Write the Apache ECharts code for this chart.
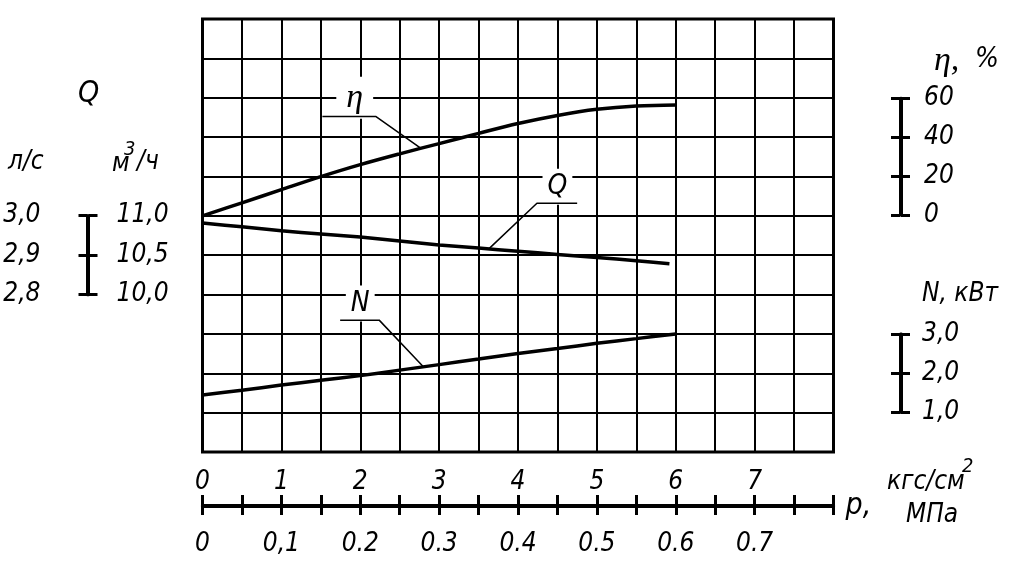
<!DOCTYPE html>
<html><head><meta charset="utf-8">
<script src="https://cdn.jsdelivr.net/npm/echarts@6/dist/echarts.min.js"></script>
<style>html,body{margin:0;padding:0;background:#fff}#c{width:1024px;height:574px}</style>
</head><body><div id="c"></div>
<script>
// ---- data (pressure p in kgf/cm2) ----
const pressure   = [0, 0.5, 1, 1.5, 2, 2.5, 3, 3.5, 4, 4.5, 5, 5.5, 6];
const etaValues  = [0, 6.6, 13.3, 19.9, 26.0, 31.5, 36.7, 41.9, 46.9, 51.0, 54.1, 55.8, 56.3];   // %
const qPressure  = [0, 0.5, 1, 1.5, 2, 2.5, 3, 3.5, 4, 4.5, 5, 5.5, 5.92];
const qValues    = [10.91, 10.86, 10.81, 10.77, 10.73, 10.68, 10.63, 10.59, 10.55, 10.51, 10.47, 10.43, 10.39]; // m3/h
const nValues    = [1.45, 1.57, 1.70, 1.82, 1.94, 2.08, 2.22, 2.36, 2.50, 2.63, 2.76, 2.88, 3.0];  // kW

// ---- tick labels ----
const kgfTickLabels = ['0', '1', '2', '3', '4', '5', '6', '7'];
const mpaTickLabels = ['0', '0,1', '0.2', '0.3', '0.4', '0.5', '0.6', '0.7'];
const etaScaleLabels = ['0', '20', '40', '60'];
const nScaleLabels = ['1,0', '2,0', '3,0'];
const qM3hLabels = ['10,0', '10,5', '11,0'];
const qLsLabels = ['2,8', '2,9', '3,0'];

// ---- scale relations to the drawing grid (grid units 0..11) ----
const etaAxis = {min: -120, max: 100, interval: 20};
const qAxis = {min: 8, max: 13.5, interval: 0.5};

const SANS = '"DejaVu Sans Condensed","DejaVu Sans",sans-serif';
const SERIF = '"Liberation Serif","DejaVu Serif",serif';
const INK = '#000';

function etaToUnits(v){ return (v - etaAxis.min) / etaAxis.interval; }
function qToUnits(v){ return (v - qAxis.min) / qAxis.interval; }
function interp(xs, ys, x){
  for (let i = 0; i < xs.length - 1; i++) {
    if (x >= xs[i] && x <= xs[i+1]) { const t = (x - xs[i]) / (xs[i+1] - xs[i]); return ys[i] + t * (ys[i+1] - ys[i]); }
  }
  return ys[ys.length-1];
}

// ---- callout annotations (label position, leader shelf) in grid units ----
const callouts = [
  {text: 'η', serif: true, label: [1.93, 9.0], shelf: [1.52, 2.20, 8.52], anchorP: 2.77,
   anchorY: () => etaToUnits(interp(pressure, etaValues, 2.77)), elbowRight: true},
  {text: 'Q', label: [4.5, 6.74], shelf: [4.24, 4.75, 6.32], anchorP: 3.63,
   anchorY: () => qToUnits(interp(qPressure, qValues, 3.63)), elbowRight: false},
  {text: 'N', label: [2.0, 3.77], shelf: [1.745, 2.24, 3.35], anchorP: 2.80,
   anchorY: () => interp(pressure, nValues, 2.80), elbowRight: true}
];

const chart = echarts.init(document.getElementById('c'), null, {renderer: 'canvas'});

function idxLabel(list, min, step){
  return function(v){
    const k = (v - min) / step;
    const r = Math.round(k);
    if (Math.abs(k - r) > 1e-6) return '';
    return list[r] !== undefined ? list[r] : '';
  };
}

const sideLabel = {fontFamily: SANS, fontStyle: 'italic', fontSize: 26, color: INK};
function scaleAxis(gridIndex, pos, min, max, interval, labels, margin){
  return {
    type: 'value', gridIndex, position: pos, min, max, interval,
    axisLine: {show: true, onZero: false, lineStyle: {color: INK, width: 3}},
    axisTick: {show: true, inside: false, length: 9, lineStyle: {color: INK, width: 3}},
    axisLabel: labels ? Object.assign({show: true, margin, formatter: idxLabel(labels, min, interval)}, sideLabel) : {show: false},
    splitLine: {show: false}
  };
}
function hiddenX(gridIndex){ return {type: 'value', gridIndex, show: false, min: 0, max: 1}; }

const series = [
  {name: 'eta', type: 'line', xAxisIndex: 0, yAxisIndex: 1, smooth: 0.35, symbol: 'none', z: 5,
   lineStyle: {color: INK, width: 3.5}, data: pressure.map((p, i) => [p, etaValues[i]])},
  {name: 'Q', type: 'line', xAxisIndex: 0, yAxisIndex: 2, smooth: 0.3, symbol: 'none', z: 5,
   lineStyle: {color: INK, width: 3.5}, data: qPressure.map((p, i) => [p, qValues[i]])},
  {name: 'N', type: 'line', xAxisIndex: 0, yAxisIndex: 0, smooth: 0.3, symbol: 'none', z: 5,
   lineStyle: {color: INK, width: 3.5}, data: pressure.map((p, i) => [p, nValues[i]])}
];

callouts.forEach(c => {
  const [x0, x1, y] = c.shelf;
  const anchor = [c.anchorP, c.anchorY()];
  const pts = c.elbowRight ? [[x0, y], [x1, y], anchor] : [[x1, y], [x0, y], anchor];
  series.push({type: 'line', xAxisIndex: 0, yAxisIndex: 0, symbol: 'none', z: 4, silent: true,
    lineStyle: {color: INK, width: 1.5}, data: pts});
  series.push({type: 'scatter', xAxisIndex: 0, yAxisIndex: 0, symbolSize: 2, z: 3, silent: true,
    itemStyle: {color: 'rgba(255,255,255,0)'},
    label: {show: true, position: 'inside', formatter: c.text, color: INK, opacity: 1,
      textBorderWidth: 0, textBorderColor: 'transparent',
      fontFamily: c.serif ? SERIF : SANS, fontStyle: 'italic', fontSize: c.serif ? 34 : 28,
      backgroundColor: '#fff', padding: c.serif ? [2, 10, 6, 10] : [5, 5, 3, 5]},
    data: [c.label]});
});

const txt = (text, x, y, size, serif) => ({type: 'text', x, y, silent: true,
  style: {text, fill: INK, font: 'italic ' + size + 'px ' + (serif ? SERIF : SANS),
    textAlign: 'left', textVerticalAlign: 'middle'}});

const option = {
  backgroundColor: '#fff',
  animation: false,
  grid: [
    {left: 202.5, top: 19, width: 631, height: 433, show: true, borderColor: INK, borderWidth: 3, backgroundColor: 'transparent'},
    {left: 900, top: 98.3, width: 1, height: 116.7},
    {left: 900, top: 334, width: 1, height: 78.3},
    {left: 87.5, top: 215.7, width: 1, height: 79},
    {left: 202.5, top: 505, width: 631, height: 1}
  ],
  xAxis: [
    {type: 'value', gridIndex: 0, min: 0, max: 8, interval: 0.5,
     axisLine: {show: false}, axisTick: {show: false}, axisLabel: {show: false},
     splitLine: {show: true, lineStyle: {color: INK, width: 2}}},
    hiddenX(1), hiddenX(2), hiddenX(3),
    {type: 'value', gridIndex: 4, position: 'top', min: 0, max: 8, interval: 0.5,
     axisLine: {show: true, onZero: false, lineStyle: {color: INK, width: 3}},
     axisTick: {show: true, length: 10, lineStyle: {color: INK, width: 3}},
     axisLabel: Object.assign({show: true, margin: 10, formatter: idxLabel(kgfTickLabels, 0, 1)}, sideLabel),
     splitLine: {show: false}},
    {type: 'value', gridIndex: 4, position: 'bottom', min: 0, max: 0.8, interval: 0.05,
     axisLine: {show: true, onZero: false, lineStyle: {color: INK, width: 3}},
     axisTick: {show: true, length: 9, lineStyle: {color: INK, width: 3}},
     axisLabel: Object.assign({show: true, margin: 25, formatter: idxLabel(mpaTickLabels, 0, 0.1)}, sideLabel),
     name: 'p,', nameLocation: 'end', nameGap: 12,
     nameTextStyle: {fontFamily: SANS, fontStyle: 'italic', fontSize: 30, color: INK, verticalAlign: 'middle', align: 'left'},
     splitLine: {show: false}}
  ],
  yAxis: [
    {type: 'value', gridIndex: 0, min: 0, max: 11, interval: 1,
     axisLine: {show: false}, axisTick: {show: false}, axisLabel: {show: false},
     splitLine: {show: true, lineStyle: {color: INK, width: 2}}},
    {type: 'value', gridIndex: 0, show: false, min: etaAxis.min, max: etaAxis.max, interval: etaAxis.interval, splitLine: {show: false}},
    {type: 'value', gridIndex: 0, show: false, min: qAxis.min, max: qAxis.max, interval: qAxis.interval, splitLine: {show: false}},
    scaleAxis(1, 'left', 0, 60, 20, null, 0),
    scaleAxis(1, 'right', 0, 60, 20, etaScaleLabels, 23),
    scaleAxis(2, 'left', 1, 3, 1, null, 0),
    scaleAxis(2, 'right', 1, 3, 1, nScaleLabels, 21),
    scaleAxis(3, 'left', 2.8, 3.0, 0.1, qLsLabels, 47),
    scaleAxis(3, 'right', 10, 11, 0.5, qM3hLabels, 28),
    {type: 'value', gridIndex: 4, show: false, min: 0, max: 1}
  ],
  series,
  graphic: [
    txt('η,', 934, 61, 34, true),
    txt('%', 975, 60, 28),
    txt('N, кВт', 922, 294, 26),
    txt('Q', 78, 94, 30),
    txt('л/с', 8, 162, 26),
    txt('м', 112, 164, 26),
    txt('3', 124, 150, 20),
    txt('/ч', 137, 162, 26),
    txt('кгс/см', 887, 482, 26),
    txt('2', 962, 467, 20),
    txt('МПа', 906, 515, 26)
  ]
};
chart.setOption(option);
</script>
</body></html>
